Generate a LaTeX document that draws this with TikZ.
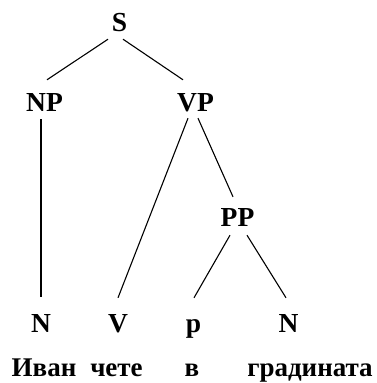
\documentclass[tikz,border=0pt]{standalone}
\usepackage{fontspec}
\setmainfont{Liberation Serif}
\usepackage{tikz}
\tikzstyle{cat}=[inner sep=0pt, anchor=base, text height=19pt, text depth=0pt, font=\fontsize{27.5}{31}\selectfont\bfseries]
\tikzstyle{word}=[inner sep=0pt, anchor=base, font=\fontsize{27}{31}\selectfont\bfseries]
\tikzstyle{branch}=[line width=1.1pt]

\begin{document}
\begin{tikzpicture}[x=1pt, y=1pt]
            \useasboundingbox (0, 0) rectangle (376, 383);
            % categories
            \node[cat] (S) at (119.5, 351) {S};
            \node[cat] (NP) at (44.5, 271) {NP};
            \node[cat] (VP) at (195.5, 271) {VP};
            \node[cat] (PP) at (237.5, 156) {PP};
            \node[cat] (N1) at (41, 50) {N};
            \node[cat] (V) at (118, 50) {V};
            \node[cat] (p) at (193.5, 50) {p};
            \node[cat] (N2) at (288.5, 50) {N};
            % words
            \node[word] (ivan) at (44, 6) {Иван};
            \node[word] (chete) at (116.5, 6) {чете};
            \node[word] (v) at (192, 6) {в};
            \node[word] (gradinata) at (310, 6) {градината};
            % branches
            \draw[branch] ([shift={(-11.5,-7)}]S.south) -- ([shift={(2.5,13)}]NP.north);
            \draw[branch] ([shift={(3.5,-7)}]S.south) -- ([shift={(-12.5,13)}]VP.north);
            \draw[branch] ([shift={(-3.5,-7)}]NP.south) -- ([shift={(0,17)}]N1.north);
            \draw[branch] ([shift={(-7.5,-6)}]VP.south) -- ([shift={(0,16)}]V.north);
            \draw[branch] ([shift={(2.5,-6)}]VP.south) -- ([shift={(-4.5,11)}]PP.north);
            \draw[branch] ([shift={(-7.5,-8)}]PP.south) -- ([shift={(0.5,16)}]p.north);
            \draw[branch] ([shift={(9.5,-8)}]PP.south) -- ([shift={(-2.5,16)}]N2.north);
        \end{tikzpicture}
\end{document}
